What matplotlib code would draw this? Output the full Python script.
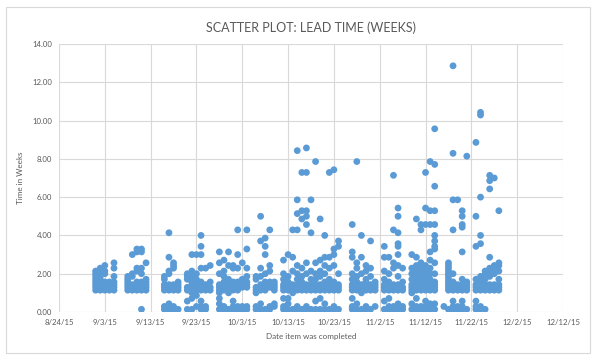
import matplotlib
matplotlib.use("Agg")
import matplotlib.pyplot as plt
from matplotlib.patches import Rectangle
import pandas as pd

START = "2015-08-24"

# lead times (weeks) keyed by completion day offset from 8/24/15
wk_sep_a = {
    8: [1.14, 1.29, 1.43, 1.57, 1.71, 1.86, 2.0, 2.14],
    9: [1.14, 1.29, 1.43, 1.71, 1.86, 2.0, 2.29],
    10: [1.14, 1.29, 1.43, 1.57, 2.0, 2.14, 2.43],
    11: [1.14, 1.29, 1.43, 1.57],
    12: [1.14, 1.29, 1.43, 1.57, 1.86, 2.29, 2.57],
    15: [1.14, 1.29, 1.43, 1.57, 1.71, 1.86],
    16: [1.14, 1.29, 1.43, 1.86, 2.0, 3.0],
    17: [1.14, 1.29, 1.43, 1.57, 2.14, 2.29, 3.29, 3.14],
    18: [1.14, 1.29, 1.43, 1.57, 2.0, 2.29, 3.29, 3.14, 0.14],
    19: [1.14, 1.29, 1.43, 1.57, 1.71, 2.57],
}
wk_sep_b = {
    23: [0.14, 0.29, 1.14, 1.29, 1.43, 1.71, 1.86],
    24: [0.14, 0.29, 0.43, 1.14, 1.29, 1.43, 2.0, 2.14, 2.86, 4.14],
    25: [0.14, 0.29, 1.14, 1.29, 1.43, 2.29, 2.43, 2.57],
    26: [0.14, 1.14, 1.29, 1.43, 1.57],
    28: [0.14, 0.57, 1.14, 1.29, 1.71, 1.86, 2.0],
    29: [0.14, 0.71, 1.0, 1.14, 1.29, 1.43, 1.57, 1.86, 2.14, 3.0],
    30: [0.29, 0.86, 1.14, 1.29, 1.43, 1.71, 2.0, 3.0],
    31: [0.14, 0.29, 0.57, 1.14, 1.29, 1.43, 1.57, 2.29, 3.0, 3.43, 4.0],
    32: [0.14, 0.29, 1.14, 1.29, 1.43, 2.29],
    33: [1.14, 1.29, 1.57, 2.43],
}
wk_oct_a = {
    35: [0.14, 0.43, 0.71, 1.0, 1.14, 1.29, 1.43, 2.0, 2.57, 3.14],
    36: [0.14, 0.29, 1.14, 1.29, 1.57, 1.86, 2.14, 2.71],
    37: [0.14, 1.0, 1.14, 1.29, 1.43, 1.71, 2.43, 3.14],
    38: [0.14, 0.29, 0.57, 1.14, 1.29, 1.43, 1.57, 2.29, 2.43],
    39: [0.14, 0.29, 1.14, 1.29, 1.43, 1.57, 2.29, 3.0, 4.29],
    40: [0.14, 0.29, 1.29, 1.43, 1.57, 1.71, 2.57],
    41: [0.14, 0.29, 1.29, 1.43, 1.57, 1.86, 2.29, 3.29, 4.29],
    43: [0.14, 0.29, 1.0, 1.14, 1.29, 1.71, 1.86],
    44: [0.14, 0.43, 1.14, 1.29, 1.43, 1.86, 2.29, 3.71, 5.0],
    45: [0.14, 1.14, 1.29, 1.43, 1.57, 2.0, 3.0, 3.43, 3.86],
    46: [0.14, 0.29, 1.29, 1.43, 1.57, 2.14, 2.43, 4.29],
    47: [0.29, 0.43, 1.14, 1.29, 1.43, 1.57],
}
wk_oct_b = {
    49: [0.14, 0.29, 0.71, 1.14, 1.29, 1.43, 1.71, 2.0, 2.71],
    50: [0.14, 0.43, 0.71, 1.14, 1.29, 1.57, 1.86, 3.0],
    51: [0.14, 1.0, 1.14, 1.29, 1.43, 2.14, 2.86, 4.29],
    52: [0.14, 0.29, 1.14, 1.29, 1.43, 1.71, 2.0, 2.43, 4.29, 5.14, 5.86, 8.43],
    53: [0.14, 1.14, 1.29, 1.57, 1.86, 2.29, 4.86, 5.29, 7.29],
    54: [0.14, 0.29, 1.14, 1.29, 1.43, 2.0, 2.57, 4.57, 5.0, 5.29, 7.29, 8.57],
    55: [0.14, 1.14, 1.43, 1.71, 2.14, 4.14, 5.86],
    56: [0.14, 0.57, 1.14, 1.29, 1.43, 1.71, 2.0, 2.57, 7.86],
    57: [0.14, 0.71, 1.14, 1.29, 1.43, 1.86, 2.14, 2.71, 4.86],
    58: [0.14, 0.43, 1.14, 1.29, 1.57, 2.0, 2.43, 2.86, 4.0],
    59: [0.14, 1.14, 1.29, 1.43, 1.71, 2.29, 2.86, 7.29],
    60: [0.14, 0.29, 1.14, 1.29, 1.43, 1.57, 2.43, 3.0, 3.29, 7.43],
    61: [0.14, 1.14, 1.29, 1.43, 2.0, 3.43, 3.71],
}
wk_nov_a = {
    64: [0.14, 0.29, 0.71, 1.14, 1.29, 1.43, 1.71, 2.0, 2.86, 3.14, 4.57],
    65: [0.14, 0.43, 1.14, 1.29, 1.57, 1.86, 2.29, 2.57, 7.86],
    66: [0.14, 1.0, 1.14, 1.29, 1.43, 2.0, 2.86, 4.0],
    67: [0.14, 0.29, 1.14, 1.29, 1.57, 1.71, 2.14, 2.43],
    68: [0.14, 1.14, 1.29, 1.43, 1.86, 2.29, 3.71],
    69: [0.29, 1.14, 1.29, 1.43, 1.57],
    71: [0.14, 0.57, 1.14, 1.29, 1.43, 1.71, 2.14, 2.86, 3.43],
    72: [0.14, 0.29, 0.71, 1.14, 1.29, 1.57, 2.0, 2.86],
    73: [0.14, 0.29, 1.14, 1.29, 1.43, 2.29, 2.57, 4.29, 7.14],
    74: [0.14, 0.29, 0.43, 1.14, 1.29, 1.43, 1.86, 2.43, 3.0, 3.43, 3.57, 4.14, 5.0, 5.43],
    75: [0.14, 0.29, 1.14, 1.29, 1.57, 2.29],
}
wk_nov_b = {
    77: [0.14, 0.43, 1.0, 1.14, 1.29, 1.43, 1.71, 2.0, 2.29, 3.0],
    78: [0.14, 0.29, 0.71, 1.14, 1.29, 1.43, 1.57, 1.86, 2.14, 2.43, 2.86, 4.86],
    79: [0.14, 0.29, 1.14, 1.29, 1.43, 1.71, 2.0, 2.29, 2.57, 4.29, 4.57],
    80: [0.14, 0.29, 0.57, 1.14, 1.29, 1.43, 1.57, 1.86, 2.14, 2.43, 4.57, 5.43, 7.29],
    81: [0.14, 0.29, 0.43, 1.14, 1.29, 1.43, 1.71, 2.0, 2.29, 2.71, 3.14, 4.57, 5.29, 7.86],
    82: [0.14, 0.43, 1.14, 1.29, 1.43, 1.57, 2.0, 2.57, 3.29, 3.43, 3.71, 4.0, 4.57, 5.29,
         6.57, 7.71, 9.57],
    84: [0.29],
    85: [0.14, 1.14, 1.29, 1.43, 1.57, 1.71, 1.86, 2.0, 2.14, 2.29, 2.43, 2.57],
    86: [0.14, 0.29, 0.57, 1.14, 1.29, 1.43, 1.57, 2.0, 4.29, 5.86, 8.29, 12.86],
    87: [0.14, 0.29, 1.14, 1.29, 1.43, 5.86],
    88: [0.14, 0.29, 0.57, 1.14, 1.29, 1.43, 1.71, 3.14, 4.43, 4.57, 5.0, 5.29],
    89: [0.14, 1.14, 1.29, 1.43, 1.57, 8.14],
}
wk_nov_c = {
    91: [0.14, 0.29, 0.57, 1.14, 1.29, 1.43, 1.71, 3.43, 5.0, 8.86],
    92: [0.14, 0.29, 1.14, 1.29, 1.43, 1.57, 1.86, 3.57, 4.0, 6.0, 10.29, 10.43],
    93: [0.14, 1.14, 1.29, 1.43, 1.71, 2.0, 2.14],
    94: [1.14, 1.29, 1.43, 1.86, 2.14, 2.29, 2.86, 6.43, 6.86, 7.14],
    95: [1.14, 1.29, 1.43, 2.0, 2.29, 2.43, 7.0],
    96: [1.14, 1.29, 1.43, 1.71, 2.14, 2.43, 2.57, 5.29],
}

x_tick_labels = ["8/24/15", "9/3/15", "9/13/15", "9/23/15", "10/3/15", "10/13/15",
                 "10/23/15", "11/2/15", "11/12/15", "11/22/15", "12/2/15", "12/12/15"]
y_ticks = [0, 2, 4, 6, 8, 10, 12, 14]

groups = [wk_sep_a, wk_sep_b, wk_oct_a, wk_oct_b, wk_nov_a, wk_nov_b, wk_nov_c]
rows = [(d, v) for g in groups for d, vals in g.items() for v in vals]
df = pd.DataFrame(rows, columns=["offset", "weeks"])
df["date"] = pd.Timestamp(START) + pd.to_timedelta(df["offset"], unit="D")

tick_dates = pd.to_datetime(x_tick_labels, format="%m/%d/%y")

plt.rcParams['font.family'] = ['Lato', 'DejaVu Sans']
fig = plt.figure(figsize=(5.99, 3.63), dpi=100)
fig.patches.append(Rectangle((6 / 599, 1 - 353 / 363), 584 / 599, 346 / 363,
                             transform=fig.transFigure, fill=False,
                             edgecolor="#d9d9d9", linewidth=0.8))
ax = fig.add_axes([59 / 599, 1 - 312 / 363, (563 - 59) / 599, (312 - 44) / 363])

ax.scatter(df["date"], df["weeks"], s=24, color="#5b9bd5", edgecolors="none", zorder=3)

ax.set_xlim(tick_dates[0], tick_dates[-1])
ax.set_ylim(0, 14)
ax.set_xticks(tick_dates)
ax.set_xticklabels(x_tick_labels)
ax.set_yticks(y_ticks)
ax.set_yticklabels([f"{v:.2f}" for v in y_ticks])
ax.grid(True, color="#d9d9d9", linewidth=0.8, zorder=0)
ax.set_axisbelow(True)
for s in ax.spines.values():
    s.set_visible(False)
ax.tick_params(axis="both", length=0, labelsize=5.6, colors="#595959", pad=5)

ax.set_title("SCATTER PLOT: LEAD TIME (WEEKS)", fontsize=9, color="#595959", pad=9)
ax.set_xlabel("Date item was completed", fontsize=5.8, color="#595959", labelpad=5)
ax.set_ylabel("Time in Weeks", fontsize=5.8, color="#595959", labelpad=6)

fig.savefig("out.png", dpi=100)
